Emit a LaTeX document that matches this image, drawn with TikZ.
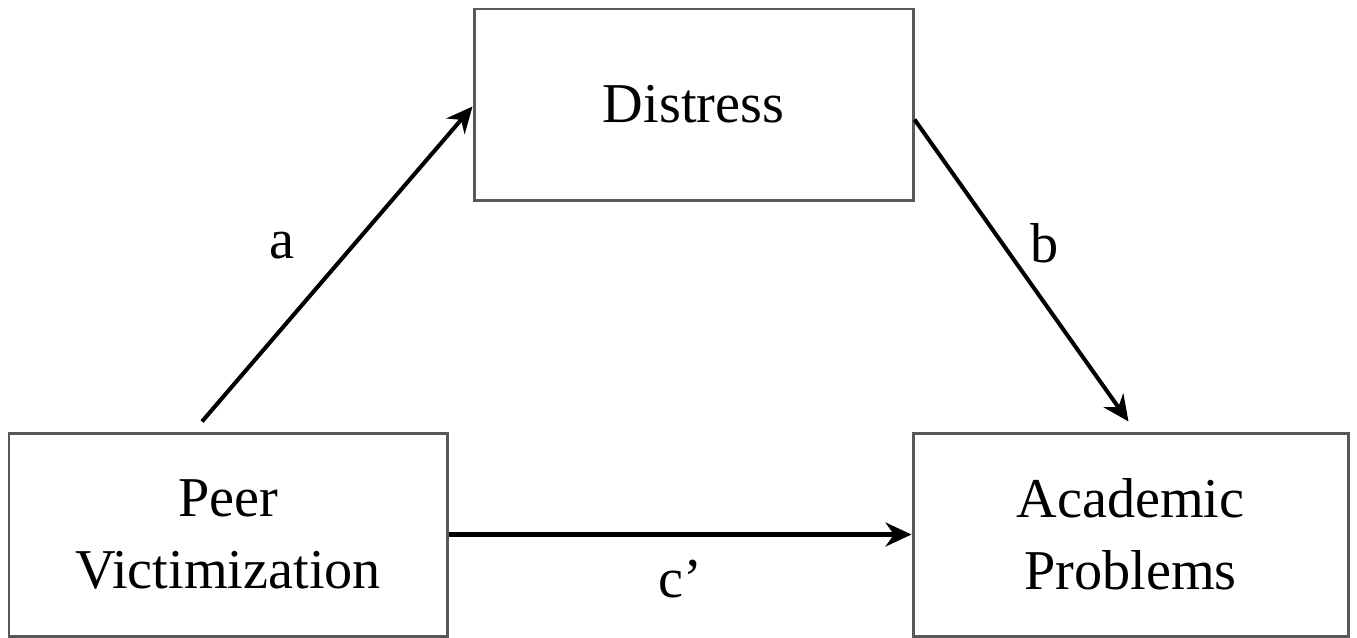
\documentclass[tikz,border=0pt]{standalone}
\usepackage{fontspec}
\setmainfont{Liberation Serif}
\usetikzlibrary{arrows.meta,positioning}

\begin{document}
\begin{tikzpicture}[every node/.style={font=\fontsize{16}{20.5}\selectfont},
    varbox/.style={draw=black!65, line width=0.85pt, rectangle, align=center, inner sep=0pt},
    effect/.style={-{Stealth[length=2.6mm, width=2.4mm]}, line width=1.15pt}]
    \useasboundingbox (0,0) rectangle (13.57,6.37);

    % Mediator
    \node[varbox, minimum width=4.39cm, minimum height=1.91cm] (distress) at (6.935,5.325) {Distress};

    % Predictor and outcome
    \node[varbox, minimum width=4.38cm, minimum height=2.03cm] (peer) at (2.28,1.025) {Peer\\Victimization};
    \node[varbox, minimum width=4.35cm, minimum height=2.03cm] (academic) at (11.305,1.025) {Academic\\Problems};

    % Paths
    \draw[effect] ([xshift=-0.26cm, yshift=0.1cm]peer.north) -- ([yshift=-0.02cm]distress.west)
        node[pos=0.56, left=0.45cm] (alabel) {a};
    \draw[effect] ([yshift=-0.15cm]distress.east) -- ([xshift=-0.02cm, yshift=0.1cm]academic.north)
        node[pos=0.41, right=0.15cm] (blabel) {b};
    \draw[effect] (peer.east) -- (academic.west)
        node[midway, below=0.12cm] (clabel) {c'};
\end{tikzpicture}
\end{document}
